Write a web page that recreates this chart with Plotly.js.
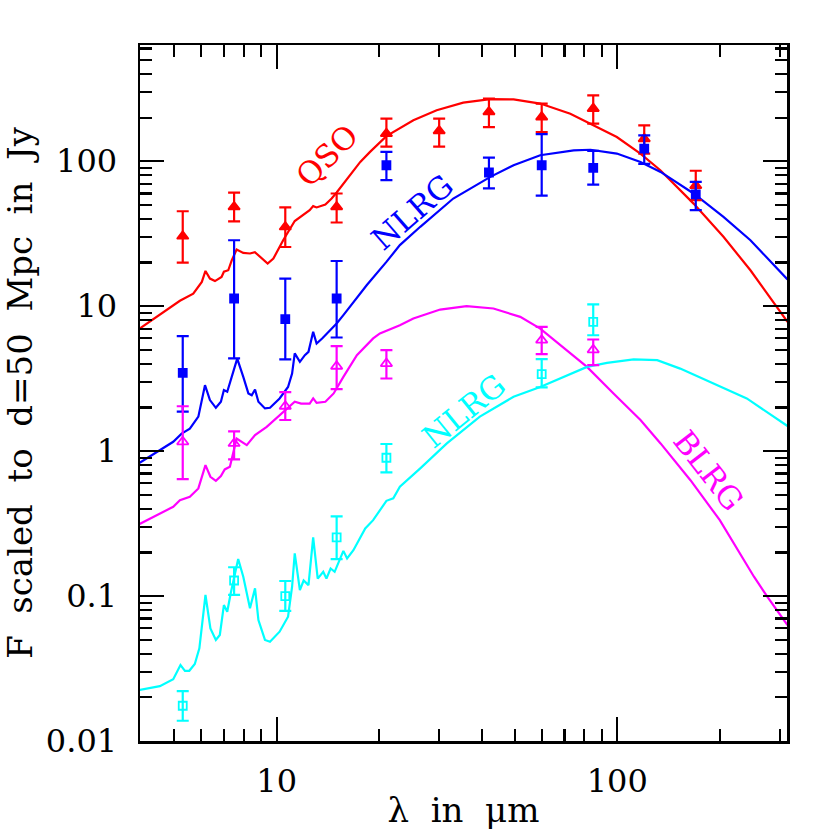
<!DOCTYPE html>
<html>
<head>
<meta charset="utf-8">
<script src="https://cdn.plot.ly/plotly-3.0.1.min.js"></script>
<style>
  html, body { margin: 0; padding: 0; background: #ffffff; }
  #chart { width: 830px; height: 830px; }
</style>
</head>
<body>
<div id="chart"></div>
<script>
// ---------- observed photometry ----------
const lamQSO  = [5.3, 7.5, 10.6, 15, 21, 30, 42, 60, 85, 120, 170];
const fQSO    = [30.4, 48.4, 35.2, 48.4, 155, 162, 219, 202, 231, 143, 68];
const fQSOhi  = [45.2, 60.8, 48, 59.9, 197, 197, 270, 250, 285, 177, 86];
const fQSOlo  = [20.0, 38.5, 25.6, 37.8, 126, 126, 172, 159, 182, 113, 54];

const lamNL   = [5.3, 7.5, 10.6, 15, 21, 42, 60, 85, 120, 170];
const fNL     = [3.47, 11.3, 8.13, 11.3, 93.8, 83.6, 93.8, 90, 122, 59];
const fNLhi   = [6.21, 28.5, 15.5, 20.5, 116, 106, 154, 118, 151, 72];
const fNLlo   = [1.87, 4.36, 4.29, 6.08, 74, 65, 58, 69, 96, 46];

const lamBL   = [5.3, 7.5, 10.6, 15, 21, 60, 85];
const fBL     = [1.16, 1.13, 2.04, 3.85, 4.02, 5.83, 5.0];
const fBLhi   = [2.04, 1.37, 2.55, 5.3, 4.97, 7.2, 5.89];
const fBLlo   = [0.64, 0.877, 1.64, 2.68, 3.17, 4.67, 3.92];

const lamNL2  = [5.3, 7.5, 10.6, 15, 21, 60, 85];
const fNL2    = [0.0175, 0.128, 0.1, 0.254, 0.9, 3.4, 7.8];
const fNL2hi  = [0.0221, 0.158, 0.127, 0.355, 1.12, 4.31, 10.3];
const fNL2lo  = [0.0138, 0.102, 0.079, 0.18, 0.713, 2.75, 6.3];

// ---------- model curves ----------
const mLamQSO = [3.96, 5.2, 5.69, 6.03, 6.18, 6.37, 6.59, 6.89, 7.0, 7.21, 7.38, 7.63, 7.98, 8.35, 8.63, 9.03, 9.41, 9.78, 10.45, 11.3, 11.97, 12.5, 12.8, 13.1, 13.9, 14.5, 15.0, 16.1, 17.6, 18.8, 21.0, 25.2, 29.5, 35.3, 42.4, 49.6, 59.4, 72.8, 85.2, 99.7, 116.9, 133.8, 167.5, 205, 246, 316];
const mFQSO   = [7.0, 10.9, 12.2, 14.7, 17.5, 15.5, 14.9, 15.9, 17.3, 17.7, 20.7, 24.6, 23.3, 23.1, 23.6, 21.3, 19.7, 21.3, 28.5, 38.7, 42.5, 45.9, 49, 48, 50.3, 55.3, 60.9, 76, 99, 116, 149, 192, 225, 254, 268, 267, 250, 213, 177, 147, 113, 86.7, 51, 30.1, 17.7, 7.8];

const mLamNL  = [3.96, 4.54, 4.97, 5.26, 5.56, 5.89, 6.16, 6.37, 6.63, 6.86, 7.0, 7.16, 7.38, 7.66, 7.98, 8.26, 8.45, 8.64, 8.84, 9.24, 9.56, 10.2, 10.8, 11.1, 11.3, 11.7, 12.1, 12.4, 12.8, 13.1, 13.6, 14.3, 15.0, 15.7, 16.8, 18.4, 21.0, 23.0, 26.4, 33.0, 42.4, 49.6, 59.4, 74.5, 83.4, 99.7, 117, 134, 167.5, 205, 246, 316];
const mFNL    = [0.83, 1.02, 1.16, 1.32, 1.43, 1.73, 2.85, 2.25, 1.99, 2.19, 2.64, 2.57, 3.25, 4.35, 3.25, 2.5, 2.43, 2.66, 2.19, 1.97, 1.99, 2.31, 2.77, 3.43, 4.72, 4.13, 4.59, 4.84, 6.65, 5.53, 5.99, 6.73, 7.6, 8.67, 10.7, 14.0, 20.2, 26.4, 35.3, 55.3, 78, 93.8, 110, 119, 120, 113, 98.9, 84.4, 59.9, 41.3, 28.5, 15.3];

const mLamBL  = [3.96, 4.97, 5.2, 5.56, 5.89, 6.18, 6.39, 6.63, 6.86, 7.04, 7.29, 7.63, 8.17, 8.64, 9.35, 10.2, 10.9, 11.3, 11.8, 12.5, 12.8, 13.1, 13.9, 14.7, 15.7, 17.2, 19.2, 20.1, 23.0, 25.2, 30.2, 36.1, 43.3, 51.9, 59.4, 77.9, 81.5, 97.5, 117, 134, 164, 200, 252, 275, 316];
const mFBL    = [0.314, 0.413, 0.459, 0.484, 0.553, 0.80, 0.665, 0.624, 0.673, 0.748, 0.78, 1.22, 1.1, 1.29, 1.47, 1.77, 2.02, 2.19, 2.13, 2.13, 2.31, 2.15, 2.19, 2.5, 3.25, 4.59, 5.99, 6.49, 7.39, 8.22, 9.48, 10.0, 9.64, 8.44, 7.0, 4.13, 3.81, 2.5, 1.64, 1.13, 0.63, 0.334, 0.136, 0.10, 0.063];

const mLamNL2 = [3.96, 4.54, 4.97, 5.22, 5.38, 5.54, 5.75, 5.93, 6.18, 6.39, 6.63, 6.81, 7.0, 7.16, 7.33, 7.71, 7.98, 8.35, 8.64, 8.84, 9.24, 9.56, 10.2, 10.8, 11.1, 11.3, 11.7, 12.0, 12.4, 12.8, 13.2, 13.7, 14.0, 14.4, 14.8, 15.3, 15.7, 16.1, 16.8, 18.2, 19.2, 21.0, 22.0, 23.0, 26.4, 31.6, 39.5, 49.6, 59.4, 81.5, 93.3, 111.7, 131, 153, 192, 240, 316];
const mFNL2   = [0.0225, 0.0239, 0.0267, 0.0334, 0.0305, 0.0305, 0.034, 0.0436, 0.1017, 0.0598, 0.0498, 0.0539, 0.0867, 0.078, 0.1045, 0.18, 0.136, 0.0823, 0.113, 0.0683, 0.0498, 0.0484, 0.0568, 0.072, 0.116, 0.197, 0.11, 0.128, 0.119, 0.254, 0.132, 0.147, 0.132, 0.155, 0.147, 0.177, 0.205, 0.182, 0.207, 0.293, 0.334, 0.454, 0.472, 0.568, 0.76, 1.13, 1.73, 2.37, 2.77, 3.81, 4.06, 4.3, 4.24, 3.71, 2.93, 2.31, 1.49];

// ---------- ticks & labels ----------
const yTickVals = [0.01, 0.1, 1, 10, 100];
const yTickText = ['0.01', '0.1', '1', '10', '100'];
const xTickVals = [10, 100];
const xTickText = ['10', '100'];
const xMinor = [5, 6, 7, 8, 9, 20, 30, 40, 50, 60, 70, 80, 90, 200, 300];
const yMinor = [0.02,0.03,0.04,0.05,0.06,0.07,0.08,0.09,0.2,0.3,0.4,0.5,0.6,0.7,0.8,0.9,2,3,4,5,6,7,8,9,20,30,40,50,60,70,80,90,200,300,400,500,600];

const RED = '#ff0000', BLUE = '#0000ff', MAG = '#ff00ff', CYAN = '#00ffff';
const FONT = 'DejaVu Serif';

function plus(v, hi) { return v.map((x, i) => hi[i] - x); }
function minus(v, lo) { return v.map((x, i) => x - lo[i]); }

function curve(x, y, c) {
  return { x: x, y: y, type: 'scatter', mode: 'lines', line: { color: c, width: 2.2 }, hoverinfo: 'skip' };
}
function pts(x, y, hi, lo, c, sym, size) {
  return {
    x: x, y: y, type: 'scatter', mode: 'markers',
    marker: { color: c, symbol: sym, size: size, line: { color: c, width: 1.8 } },
    error_y: { type: 'data', symmetric: false, array: plus(y, hi), arrayminus: minus(y, lo),
               color: c, thickness: 2.2, width: 6 }
  };
}

const data = [
  curve(mLamQSO, mFQSO, RED),
  curve(mLamNL, mFNL, BLUE),
  curve(mLamBL, mFBL, MAG),
  curve(mLamNL2, mFNL2, CYAN),
  pts(lamQSO, fQSO, fQSOhi, fQSOlo, RED, 'triangle-up', 10),
  pts(lamNL, fNL, fNLhi, fNLlo, BLUE, 'square', 8),
  pts(lamBL, fBL, fBLhi, fBLlo, MAG, 'triangle-up-open', 10),
  pts(lamNL2, fNL2, fNL2hi, fNL2lo, CYAN, 'square-open', 8)
];

const axisCommon = {
  type: 'log', showgrid: false, zeroline: false,
  showline: true, linecolor: '#000', linewidth: 2.5, mirror: 'allticks',
  ticks: 'inside', ticklen: 24, tickwidth: 2.2, tickcolor: '#000',
  tickmode: 'array',
  tickfont: { family: FONT, size: 32, color: '#000' }
};

const layout = {
  width: 830, height: 830,
  margin: { l: 140, r: 43, t: 45, b: 89 },
  paper_bgcolor: '#fff', plot_bgcolor: '#fff',
  showlegend: false,
  xaxis: Object.assign({}, axisCommon, {
    range: [Math.log10(3.97), Math.log10(315)],
    tickvals: xTickVals, ticktext: xTickText,
    ticklabelstandoff: 10,
    minor: { tickmode: 'array', tickvals: xMinor, ticklen: 12, tickwidth: 2.2, tickcolor: '#000', ticks: 'inside' },
    title: { text: 'λ\u00a0\u00a0in\u00a0\u00a0μm', font: { family: FONT, size: 34, color: '#000' }, standoff: 6 }
  }),
  yaxis: Object.assign({}, axisCommon, {
    range: [-2, 2.802],
    tickvals: yTickVals, ticktext: yTickText,
    ticklabelstandoff: 14,
    minor: { tickmode: 'array', tickvals: yMinor, ticklen: 12, tickwidth: 2.2, tickcolor: '#000', ticks: 'inside' },
    title: { text: 'F\u00a0\u00a0scaled\u00a0\u00a0to\u00a0\u00a0d=50\u00a0\u00a0Mpc\u00a0\u00a0in\u00a0\u00a0Jy', font: { family: FONT, size: 34, color: '#000' }, standoff: 10 }
  }),
  annotations: [
    { text: 'QSO', x: Math.log10(14.1), y: Math.log10(110), xref: 'x', yref: 'y', showarrow: false, textangle: -45, font: { family: FONT, size: 31, color: RED } },
    { text: 'NLRG', x: Math.log10(25.0), y: Math.log10(45), xref: 'x', yref: 'y', showarrow: false, textangle: -41, font: { family: FONT, size: 31, color: BLUE } },
    { text: 'NLRG', x: Math.log10(35.4), y: Math.log10(1.89), xref: 'x', yref: 'y', showarrow: false, textangle: -39, font: { family: FONT, size: 31, color: CYAN } },
    { text: 'BLRG', x: Math.log10(185), y: Math.log10(0.74), xref: 'x', yref: 'y', showarrow: false, textangle: 52, font: { family: FONT, size: 31, color: MAG } }
  ]
};

Plotly.newPlot('chart', data, layout, { staticPlot: true, displayModeBar: false });
</script>
</body>
</html>
